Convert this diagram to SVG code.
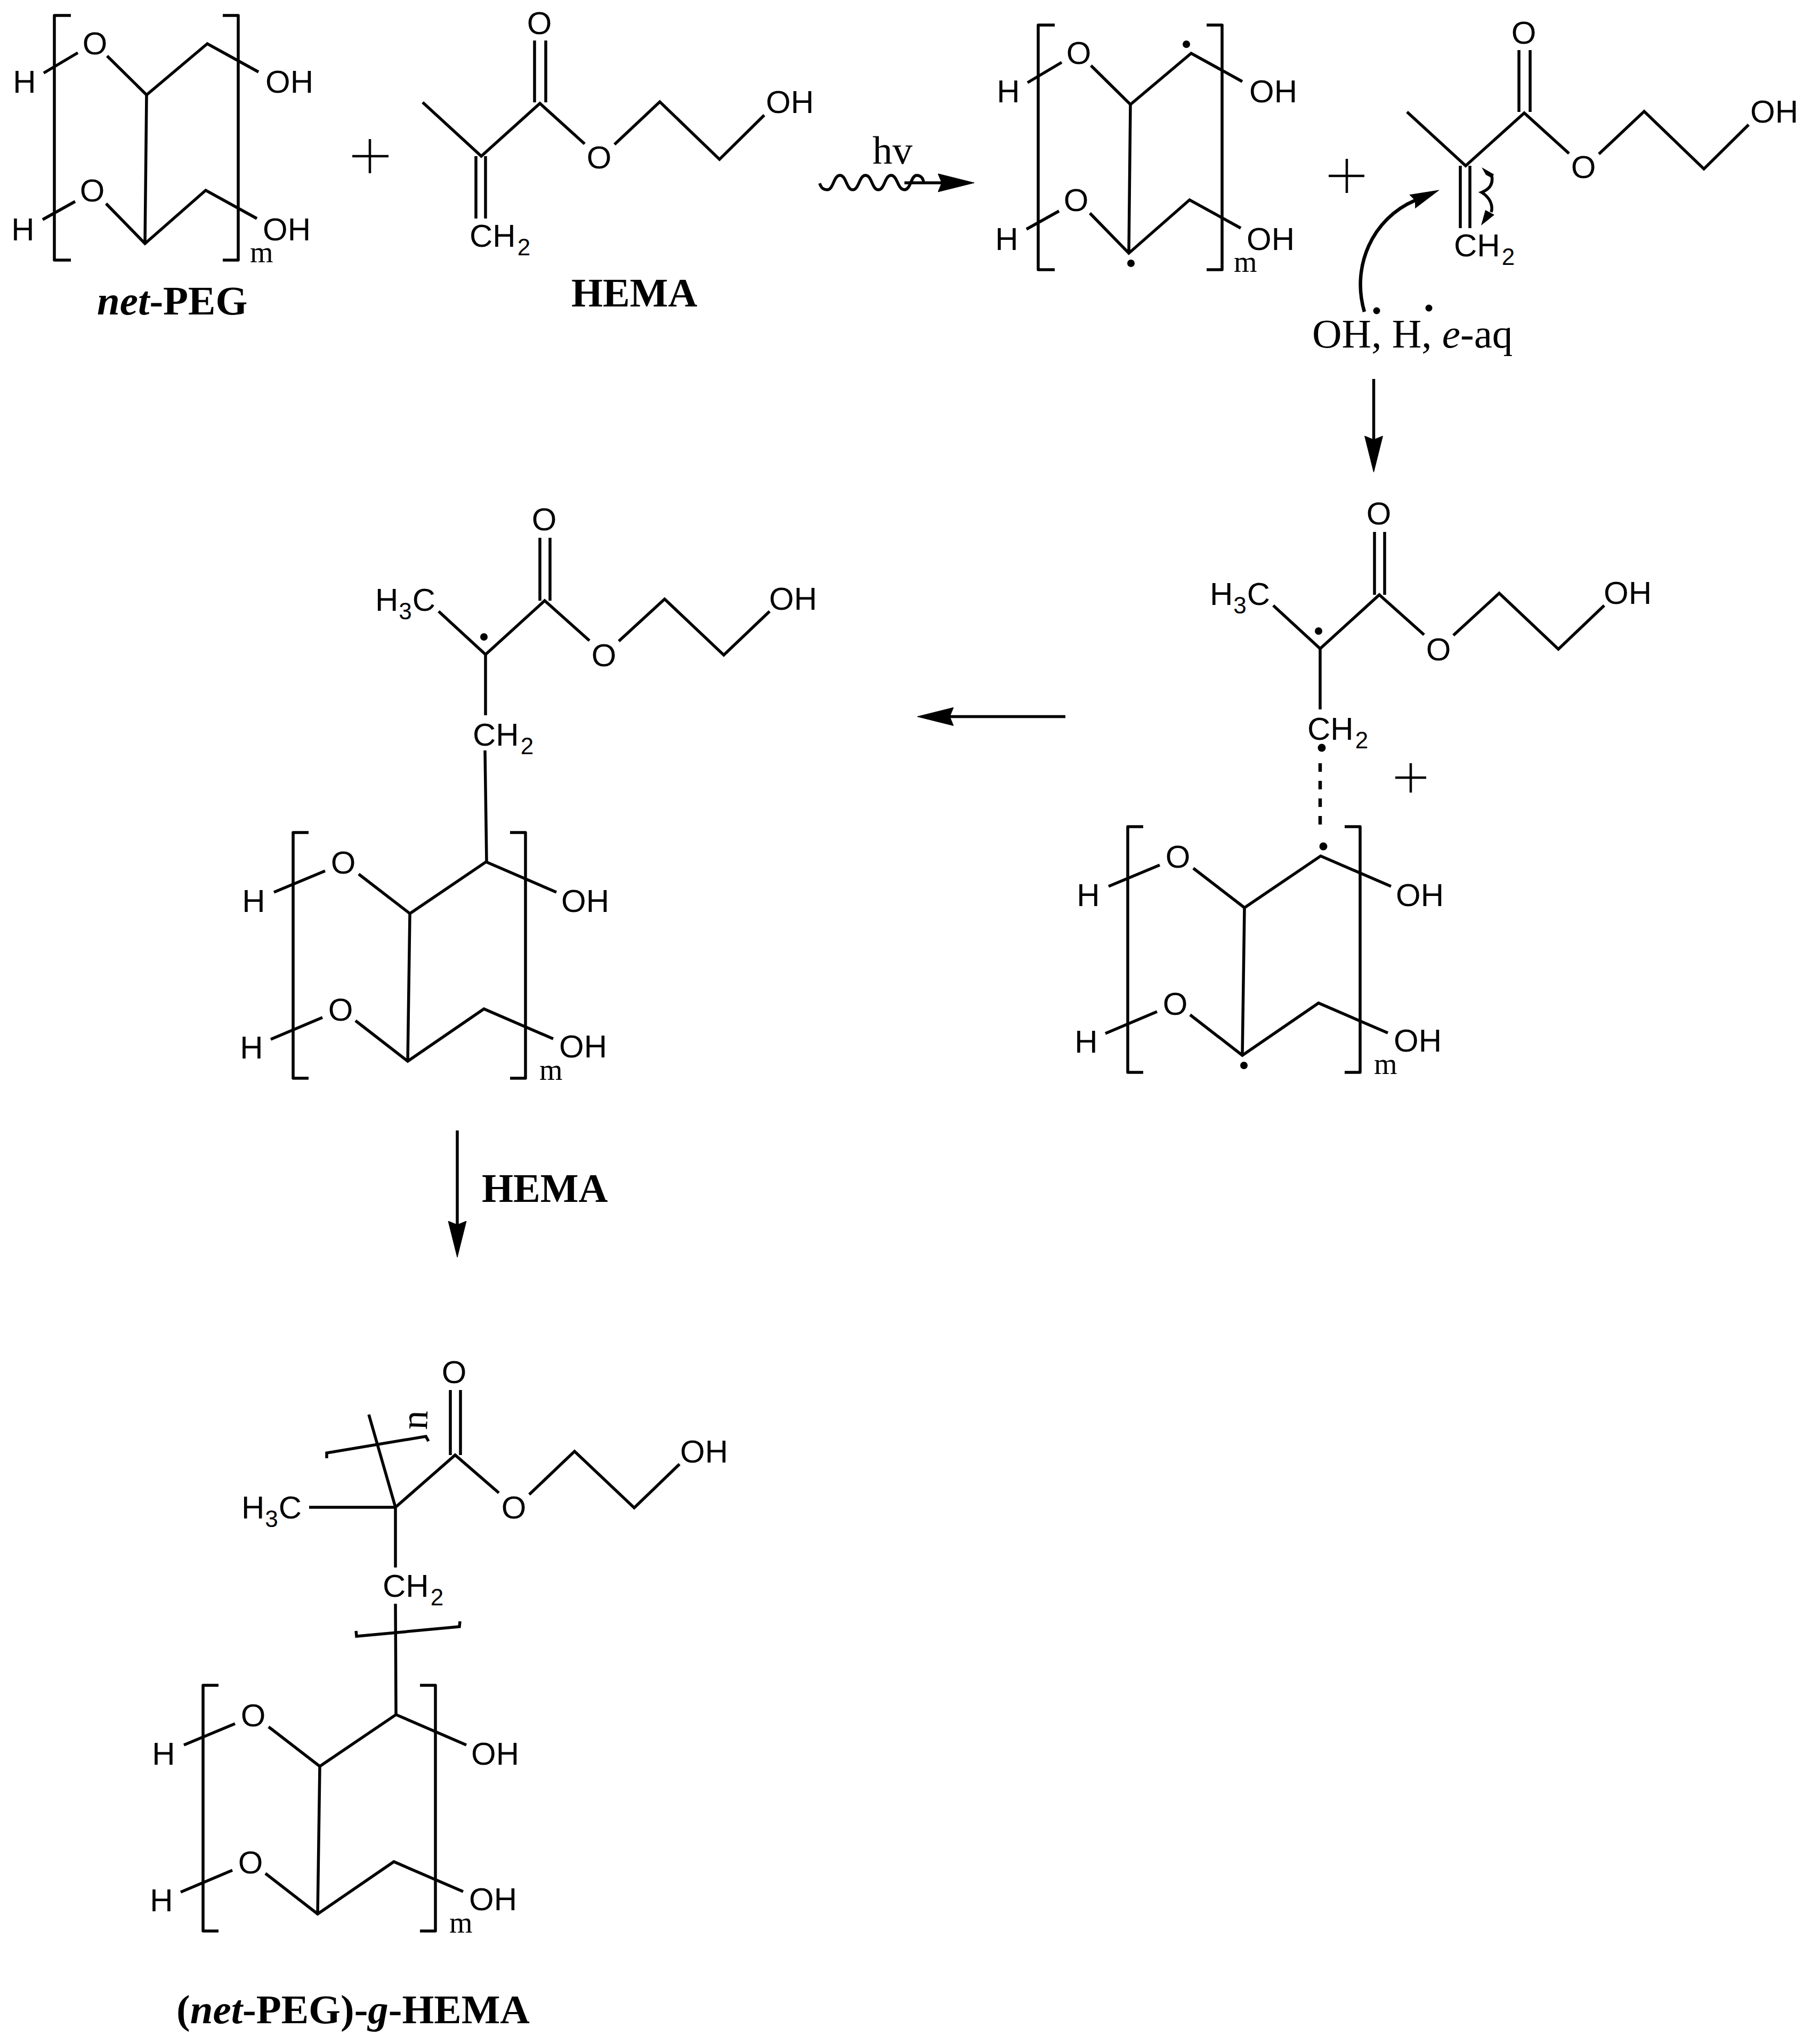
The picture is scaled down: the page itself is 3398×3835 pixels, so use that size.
<svg xmlns="http://www.w3.org/2000/svg" width="3398" height="3835" viewBox="0 0 3398 3835">
<defs>
<style>
.b{fill:none;stroke:#000;stroke-width:5.5;stroke-linecap:butt;stroke-linejoin:miter}
.br{fill:none;stroke:#000;stroke-width:5.5;stroke-linejoin:round}
.a{font-family:"Liberation Sans",Arial,sans-serif;font-size:60px;fill:#000}
.m{text-anchor:middle}
.s{font-size:44px}
.r{font-family:"Liberation Serif","Times New Roman",serif;fill:#000}
.sub{font-size:56px}
.t{font-size:76px;font-weight:bold}
.t2{font-size:77px;font-weight:bold}
.plus{fill:none;stroke:#000;stroke-width:4.5}
.dot{fill:#000}
.c{fill:none;stroke:#000;stroke-width:5.5}
.arr{marker-end:url(#head)}
</style>
<marker id="head" markerUnits="userSpaceOnUse" viewBox="0 0 68 36" refX="7" refY="18" markerWidth="68" markerHeight="36" orient="auto"><path d="M0,1 L68,18 L0,35 L7,18 Z" fill="#000" stroke="#000" stroke-width="1"/></marker>
<marker id="headS" markerUnits="userSpaceOnUse" viewBox="0 0 68 36" refX="7" refY="18" markerWidth="56" markerHeight="30" orient="auto"><path d="M0,1 L68,18 L0,35 L7,18 Z" fill="#000"/></marker>
</defs>
<rect width="3398" height="3835" fill="#fff"/>

<g id="net-peg">
<path class="br" d="M133,29H102V488H133M418,29H447V488H418"/>
<path class="b" d="M82,137L146,99M201,105L275,178L389,82L485,135M275,178L272,457M80,412L141,378M199,382L272,457L386,357L482,410"/>
<text class="a m" x="178" y="102">O</text><text class="a m" x="46" y="174">H</text><text class="a" x="498" y="174">OH</text>
<text class="a m" x="173" y="378">O</text><text class="a m" x="43" y="451">H</text><text class="a" x="493" y="451">OH</text>
<text class="r sub" x="469" y="492">m</text>
</g>
<text id="label-net-peg" class="r t2" x="182" y="590"><tspan font-style="italic">net</tspan>-PEG</text>
<path id="plus-1" class="plus" d="M661,293H729M694,261V325"/>

<g id="hema">
<path class="b" d="M1003,76V192M1024,76V192M793,192L903,293L1013,194L1097,270M1153,271L1238,191L1350,299L1434,216M893,293V410M911,293V410"/>
<text class="a m" x="1012" y="64">O</text><text class="a m" x="1124" y="316">O</text><text class="a" x="1437" y="212">OH</text>
<text class="a" x="881" y="463">CH<tspan class="s" dx="3" dy="16">2</tspan></text>
</g>
<text id="label-hema" class="r t" x="1072" y="575">HEMA</text>
<g id="label-hv"><text class="r" font-size="75" x="1637" y="307">hv</text></g>

<g id="net-peg-radical" transform="translate(1846,18)">
<path class="br" d="M133,29H102V488H133M418,29H447V488H418"/>
<path class="b" d="M82,137L146,99M201,105L275,178L389,82L485,135M275,178L272,457M80,412L141,378M199,382L272,457L386,357L482,410"/>
<text class="a m" x="178" y="102">O</text><text class="a m" x="46" y="174">H</text><text class="a" x="498" y="174">OH</text>
<text class="a m" x="173" y="378">O</text><text class="a m" x="43" y="451">H</text><text class="a" x="493" y="451">OH</text>
<text class="r sub" x="469" y="492">m</text>
<circle class="dot" cx="380" cy="65" r="7"/><circle class="dot" cx="276" cy="476" r="7"/>
</g>
<path id="plus-2" class="plus" d="M2493,330H2560M2527,298V362"/>

<g id="hema-2" transform="translate(1847,18)">
<path class="b" d="M1003,76V192M1024,76V192M793,192L903,293L1013,194L1097,270M1153,271L1238,191L1350,299L1434,216M893,293V410M911,293V410"/>
<text class="a m" x="1012" y="64">O</text><text class="a m" x="1124" y="316">O</text><text class="a" x="1437" y="212">OH</text>
<text class="a" x="881" y="463">CH<tspan class="s" dx="3" dy="16">2</tspan></text>
</g>
<g id="radicals-label">
<text class="r" font-size="77" x="2462" y="652">OH, H, <tspan font-style="italic">e</tspan>-aq</text>
<circle class="dot" cx="2583" cy="583" r="6.5"/><circle class="dot" cx="2681" cy="578" r="6.5"/>
</g>

<g id="adduct">
<path class="b" d="M2579,998V1116M2598,998V1116M2389,1136L2477,1217L2588,1116L2672,1191M2727,1192L2813,1113L2924,1218L3010,1136M2477,1217V1331"/>
<text class="a m" x="2587" y="984">O</text><text class="a m" x="2699" y="1239">O</text><text class="a" x="3009" y="1133">OH</text>
<text class="a" x="2270" y="1135">H<tspan class="s" dx="1" dy="16">3</tspan><tspan dy="-16" dx="1">C</tspan></text>
<text class="a" x="2453" y="1388">CH<tspan class="s" dx="3" dy="16">2</tspan></text>
<circle class="dot" cx="2474" cy="1184" r="7"/><circle class="dot" cx="2480" cy="1403" r="7.5"/><circle class="dot" cx="2483" cy="1588" r="7.5"/>
<path class="br" d="M2145,1551H2116V2012H2145M2523,1551H2552V2012H2523"/>
<path class="b" d="M2080,1663L2176,1623M2239,1629L2335,1703L2478,1606L2610,1663M2335,1703L2331,1980M2074,1939L2171,1898M2233,1904L2331,1980L2474,1882L2604,1938"/>
<text class="a m" x="2210" y="1628">O</text><text class="a m" x="2042" y="1700">H</text><text class="a" x="2619" y="1700">OH</text>
<text class="a m" x="2205" y="1904">O</text><text class="a m" x="2038" y="1975">H</text><text class="a" x="2615" y="1973">OH</text>
<text class="r sub" x="2578" y="2015">m</text>
<circle class="dot" cx="2334" cy="1999" r="7"/>
</g>
<path id="plus-3" class="plus" d="M2618,1459H2676M2647,1432V1487"/>

<g id="grafted-radical" transform="translate(-1566,11)">
<path class="b" d="M2579,998V1116M2598,998V1116M2389,1136L2477,1217L2588,1116L2672,1191M2727,1192L2813,1113L2924,1218L3010,1136M2477,1217V1331M2476,1397L2479,1606"/>
<text class="a m" x="2587" y="984">O</text><text class="a m" x="2699" y="1239">O</text><text class="a" x="3009" y="1133">OH</text>
<text class="a" x="2270" y="1135">H<tspan class="s" dx="1" dy="16">3</tspan><tspan dy="-16" dx="1">C</tspan></text>
<text class="a" x="2453" y="1388">CH<tspan class="s" dx="3" dy="16">2</tspan></text>
<circle class="dot" cx="2474" cy="1184" r="7"/>
<path class="br" d="M2145,1551H2116V2012H2145M2523,1551H2552V2012H2523"/>
<path class="b" d="M2080,1663L2176,1623M2239,1629L2335,1703L2478,1606L2610,1663M2335,1703L2331,1980M2074,1939L2171,1898M2233,1904L2331,1980L2474,1882L2604,1938"/>
<text class="a m" x="2210" y="1628">O</text><text class="a m" x="2042" y="1700">H</text><text class="a" x="2619" y="1700">OH</text>
<text class="a m" x="2205" y="1904">O</text><text class="a m" x="2038" y="1975">H</text><text class="a" x="2615" y="1973">OH</text>
<text class="r sub" x="2578" y="2015">m</text>
</g>
<text id="label-hema-step" class="r t" x="904" y="2255">HEMA</text>

<g id="product">
<path class="b" d="M845,2608V2730M864,2608V2730M742,2828L854,2730L936,2801M993,2804L1078,2723L1190,2829L1275,2747M580,2828H742M742,2828L692,2654M742,2828V2941M742,3009L743,3217"/>
<path class="b" d="M613,2736L613,2726L799,2695L804,2704M668,3060L669,3070L862,3052L863,3042"/>
<text class="a m" x="852" y="2595">O</text><text class="a m" x="964" y="2849">O</text><text class="a" x="1276" y="2744">OH</text>
<text class="a" x="453" y="2849">H<tspan class="s" dx="1" dy="16">3</tspan><tspan dy="-16" dx="1">C</tspan></text>
<text class="a" x="718" y="2996">CH<tspan class="s" dx="3" dy="16">2</tspan></text>
<text class="r" font-size="72" transform="translate(801,2683) rotate(-88)">n</text>
<g transform="translate(-1735,1611)">
<path class="br" d="M2145,1551H2116V2012H2145M2523,1551H2552V2012H2523"/>
<path class="b" d="M2080,1663L2176,1623M2239,1629L2335,1703L2478,1606L2610,1663M2335,1703L2331,1980M2074,1939L2171,1898M2233,1904L2331,1980L2474,1882L2604,1938"/>
<text class="a m" x="2210" y="1628">O</text><text class="a m" x="2042" y="1700">H</text><text class="a" x="2619" y="1700">OH</text>
<text class="a m" x="2205" y="1904">O</text><text class="a m" x="2038" y="1975">H</text><text class="a" x="2615" y="1973">OH</text>
<text class="r sub" x="2578" y="2015">m</text>
</g>
</g>
<text id="label-product" class="r t2" x="331" y="3796">(<tspan font-style="italic">net</tspan>-PEG)-<tspan font-style="italic">g</tspan>-HEMA</text>

<g id="connectors">
<path class="c" d="M1538,344C1541,354 1546,356 1552,356C1564,356 1564,329 1576,329C1588,329 1588,356 1600,356C1612,356 1612,329 1624,329C1636,329 1636,356 1648,356C1660,356 1660,329 1672,329C1684,329 1684,356 1697,356C1709,356 1709,329 1720,329C1727,329 1732,334 1733,342"/>
<path class="c arr" d="M1697,343H1767"/>
<path class="c" style="marker-end:url(#headS);stroke-width:6.5" d="M2560,585C2535,500 2575,410 2655,376"/>
<path class="c" d="M2799,330C2802,345 2795,355 2780,361C2795,370 2802,385 2798,398"/>
<path class="dot" d="M2780,314L2803,327L2799,334L2788,328Z"/>
<path class="dot" d="M2779,423L2804,403L2787,394Z"/>
<path class="c arr" d="M2577.5,711V825"/>
<path class="c arr" d="M1999,1344.5H1782"/>
<path class="c arr" d="M858,2121V2298"/>
<path class="b" style="stroke-width:6.5;stroke-dasharray:16 17" d="M2477,1432V1549"/>
</g>
</svg>
